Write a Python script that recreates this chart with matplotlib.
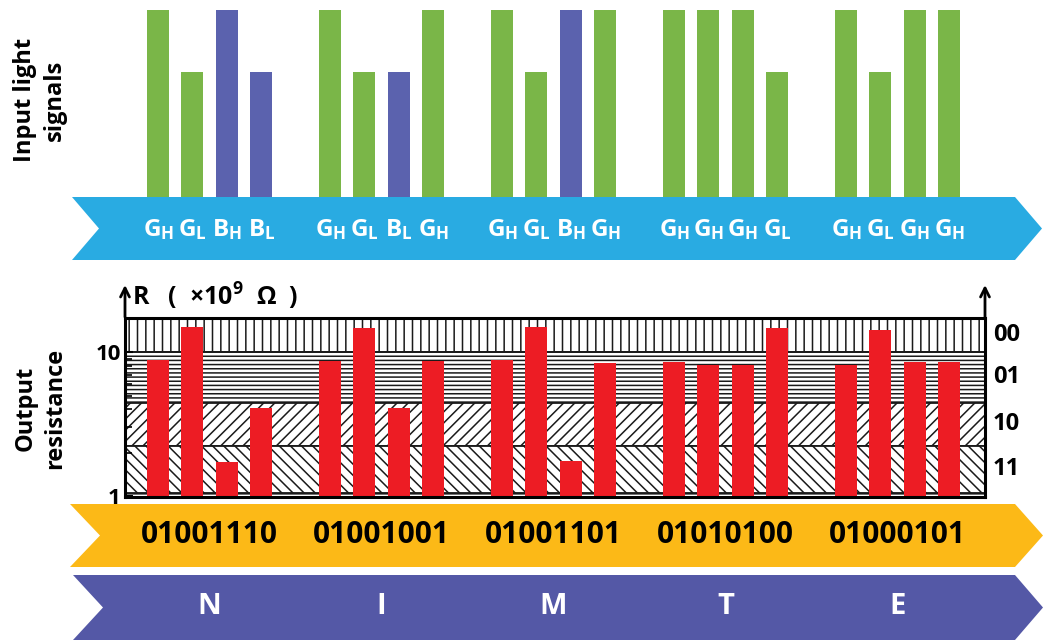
import numpy as np
import matplotlib
matplotlib.use("Agg")
import matplotlib.pyplot as plt
from matplotlib import transforms
from matplotlib.patches import Polygon

FONT = "Open Sans"
plt.rcParams["font.family"] = [FONT, "DejaVu Sans"]
plt.rcParams["font.weight"] = "bold"
plt.rcParams["mathtext.fontset"] = "custom"
plt.rcParams["mathtext.rm"] = FONT + ":bold"
plt.rcParams["mathtext.it"] = FONT + ":bold"
plt.rcParams["mathtext.bf"] = FONT + ":bold"
plt.rcParams["hatch.color"] = "#1a1a1a"
plt.rcParams["hatch.linewidth"] = 1.1

# data
letters = ["N", "I", "M", "T", "E"]
codes = ["01001110", "01001001", "01001101", "01010100", "01000101"]
signals = [
    ["GH", "GL", "BH", "BL"],
    ["GH", "GL", "BL", "GH"],
    ["GH", "GL", "BH", "GH"],
    ["GH", "GH", "GH", "GL"],
    ["GH", "GL", "GH", "GH"],
]
intensity = {"H": 1.0, "L": 0.67}
resistance = [
    [8.9, 15.0, 1.73, 4.1],
    [8.7, 14.7, 4.1, 8.7],
    [8.8, 15.0, 1.75, 8.4],
    [8.6, 8.1, 8.2, 14.7],
    [8.1, 14.3, 8.5, 8.5],
]
level_names = ["00", "01", "10", "11"]
level_bounds = [17.3, 10.0, 4.47, 2.24, 1.05]

GREEN = "#7ab648"
BLUE = "#5b62ae"
RED = "#ed1c24"
SKY = "#29abe2"
ORANGE = "#fcb917"
PURPLE = "#5458a6"

W, H = 1045, 640
fig = plt.figure(figsize=(W / 100, H / 100), dpi=100)

# background axes in pixel units for the arrow bands
bg = fig.add_axes([0, 0, 1, 1], zorder=0)
bg.set_xlim(0, W)
bg.set_ylim(H, 0)
bg.axis("off")


def chevron(y0, y1, x0, x1, notch, tip, color):
    ym = (y0 + y1) / 2
    pts = [(x0, y0), (x1, y0), (x1 + tip, ym), (x1, y1), (x0, y1), (x0 + notch, ym)]
    bg.add_patch(Polygon(pts, closed=True, facecolor=color, edgecolor="none"))


chevron(197, 260, 72, 1015, 27, 27, SKY)
chevron(504, 567, 70, 1015, 30, 28, ORANGE)
chevron(575, 640, 73, 1015, 30, 28, PURPLE)

xlim = (-0.96, 24.04)
width = 0.64
xs = [[5 * g + i for i in range(4)] for g in range(5)]

# input light signals
ax_top = fig.add_axes([125 / W, 1 - 197 / H, 860 / W, 187 / H], zorder=2)
ax_top.patch.set_alpha(0)
for g in range(5):
    for i, s in enumerate(signals[g]):
        ax_top.bar(xs[g][i], intensity[s[1]], width=width,
                   color=GREEN if s[0] == "G" else BLUE)
ax_top.set_xlim(*xlim)
ax_top.set_ylim(0, 1)
ax_top.axis("off")

tr_top = transforms.blended_transform_factory(ax_top.transData, bg.transData)
for g in range(5):
    for i, s in enumerate(signals[g]):
        ax_top.text(xs[g][i], 230, f"${s[0]}_{{{s[1]}}}$", transform=tr_top,
                    ha="center", va="center", color="white", fontsize=17.5)

# output resistance
ax = fig.add_axes([125 / W, 1 - 497 / H, 860 / W, 179 / H], zorder=2)
ax.set_yscale("log")
ax.set_xlim(*xlim)
ax.set_ylim(0.985, level_bounds[0])

hatches = ["||", "----", "///", "\\\\\\"]
for k in range(4):
    ax.axhspan(level_bounds[k + 1], level_bounds[k], facecolor="white",
               edgecolor="#1a1a1a", hatch=hatches[k], linewidth=1.3, zorder=1)
ax.axhspan(0.985, level_bounds[-1], facecolor="white", edgecolor="#1a1a1a",
           hatch="----", linewidth=1.0, zorder=1)

for g in range(5):
    ax.bar(xs[g], resistance[g], width=width, color=RED, zorder=3)

for side in ["left", "right", "top", "bottom"]:
    ax.spines[side].set_linewidth(2.2)
    ax.spines[side].set_zorder(5)
ax.set_xticks([])
ax.set_yticks([1, 10])
ax.set_yticklabels(["1", "10"], fontsize=16, fontweight="bold")
ax.tick_params(axis="y", which="both", direction="in", pad=3)
ax.tick_params(axis="y", which="major", length=6, width=1.5)
ax.tick_params(axis="y", which="minor", length=5, width=1.2)
ax.yaxis.set_minor_formatter(plt.NullFormatter())

for xa in (0, 1):
    ax.annotate("", xy=(xa, 1.2), xytext=(xa, 0.99), xycoords="axes fraction",
                arrowprops=dict(arrowstyle="->", lw=2, color="black",
                                mutation_scale=16))
ax.text(0.008, 1.12, "R   (  ×10$^{9}$  Ω  )", transform=ax.transAxes,
        fontsize=18, ha="left", va="center")

tr_right = transforms.blended_transform_factory(ax.transAxes, ax.transData)
for k, name in enumerate(level_names):
    ymid = np.sqrt(level_bounds[k] * level_bounds[k + 1])
    ax.text(1.009, ymid, name, transform=tr_right, fontsize=17,
            ha="left", va="center")

# codes and letters
tr_mid = transforms.blended_transform_factory(ax.transData, bg.transData)
for g in range(5):
    xc = np.mean(xs[g])
    ax.text(xc, 535, codes[g], transform=tr_mid, ha="center", va="center",
            fontsize=21.5, color="black", clip_on=False)
    ax.text(xc, 607, letters[g], transform=tr_mid, ha="center", va="center",
            fontsize=21, color="white", clip_on=False)

# row titles
bg.text(40, 100, "Input light\nsignals", rotation=90, ha="center", va="center",
        fontsize=17, linespacing=1.3)
bg.text(40, 408, "Output\nresistance", rotation=90, ha="center", va="center",
        fontsize=17, linespacing=1.3)

fig.savefig("out.png", dpi=100)
